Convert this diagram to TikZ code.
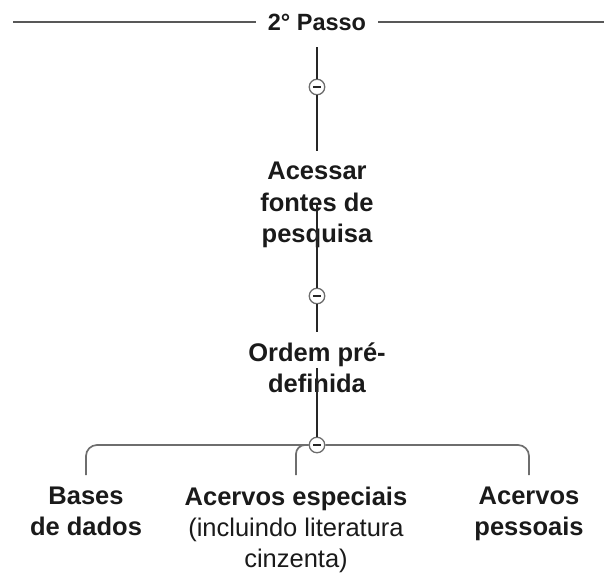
\documentclass[tikz,border=0pt]{standalone}
\usepackage{fontspec}
\setmainfont{Liberation Sans}
\definecolor{linegray}{HTML}{6E6E6E}
\definecolor{linedark}{HTML}{262626}
\definecolor{textdark}{HTML}{1A1A1A}
\begin{document}
\begin{tikzpicture}[x=1pt,y=-1pt,
  conn/.style={draw=linedark,line width=1.6pt},
  branch/.style={draw=linegray,line width=1.7pt},
  toggle/.style={circle,draw=linegray,line width=1.3pt,fill=white,minimum size=15.5pt,inner sep=0pt,
    path picture={\draw[linedark,line width=1.4pt] ([xshift=4pt]path picture bounding box.west) -- ([xshift=-4pt]path picture bounding box.east);}},
  topic/.style={align=center,text=textdark,font=\bfseries\fontsize{25.5}{31.5}\selectfont,inner xsep=4pt,inner ysep=11pt},
  leaf/.style={align=center,text=textdark,font=\fontsize{25.5}{31}\selectfont,inner xsep=4pt,inner ysep=12pt,anchor=north},
  title/.style={text=textdark,font=\bfseries\fontsize{23.5}{26}\selectfont,inner xsep=12pt}]
\useasboundingbox (0,0) rectangle (604,579);
% title
\node[title] (title) at (317,22) {2° Passo};
\coordinate (tl) at (13,22);
\coordinate (tr) at (604,22);
\coordinate (tb) at (317,47);
\draw[draw=linegray!80!black,line width=1.8pt] (tl) -- (title.west);
\draw[draw=linegray!80!black,line width=1.8pt] (title.east) -- (tr);
% nodes
\node[toggle] (c1) at (317,87) {};
\node[topic] (n1) at (317,205) {Acessar\\fontes de\\pesquisa};
\node[toggle] (c2) at (317,296) {};
\node[topic] (n2) at (317,368) {Ordem pré-\\definida};
\node[toggle] (c3) at (317,445) {};
\node[leaf] (b1) at (86,475) {\textbf{Bases}\\\textbf{de dados}};
\node[leaf] (b2) at (296,475) {\textbf{Acervos especiais}\\(incluindo literatura\\cinzenta)};
\node[leaf] (b3) at (529,475) {\textbf{Acervos}\\\textbf{pessoais}};
% connectors
\draw[conn] (tb) -- (c1);
\draw[conn] (c1) -- (n1.north);
\draw[conn] (n1.center) -- (c2);
\draw[conn] (c2) -- (n2.north);
\draw[conn] (n2.center) -- (c3);
\draw[branch,rounded corners=11pt] (c3.west) -| (b1.north);
\draw[branch,rounded corners=11pt] (c3.east) -| (b3.north);
\draw[branch,rounded corners=9pt] (c3.west) -| (b2.north);
\end{tikzpicture}
\end{document}
